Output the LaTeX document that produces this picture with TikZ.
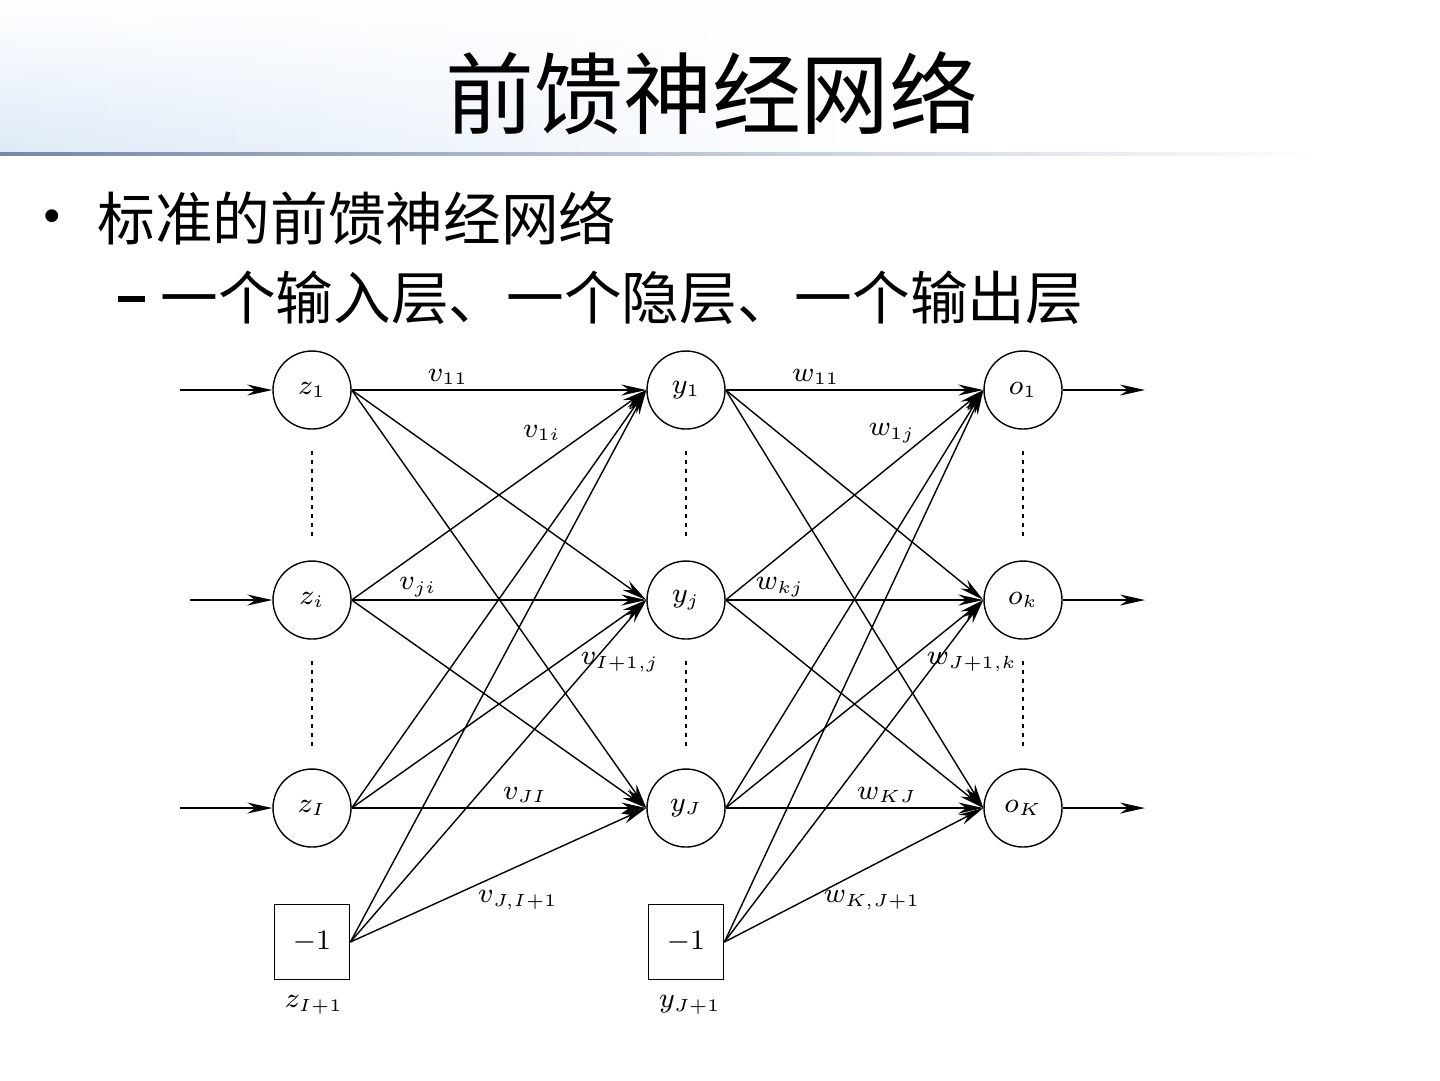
\documentclass[tikz,border=0pt]{standalone}
\usepackage{fontspec}
\newfontfamily\cjk{Noto Sans CJK SC}
\usetikzlibrary{arrows.meta,fadings}
\definecolor{bandblue}{RGB}{222,234,248}
\definecolor{ruleblue}{RGB}{120,136,165}
\begin{document}
\begin{tikzpicture}[x=0.1mm, y=-0.1mm, every node/.style={font=\fontsize{7.7}{9}\selectfont},
  neuron/.style={draw, circle, minimum size=7.8mm, inner sep=0pt, line width=0.4pt},
  biasbox/.style={draw, rectangle, minimum size=7.5mm, inner sep=0pt, line width=0.5pt},
  wire/.style={line width=0.4pt, -{Stealth[length=2.5mm, width=1.1mm, inset=0.8mm]}},
  dots/.style={line width=0.45pt, dash pattern=on 0.45mm off 0.45mm}]
  \useasboundingbox (0,0) rectangle (1440,1080);
  \fill[white] (0,0) rectangle (1440,1080);
  \shade[left color=bandblue, right color=white, path fading=north] (0,0) rectangle (900,153);
  \shade[left color=ruleblue, right color=white] (0,152.5) rectangle (1320,155.5);
  \node (title) at (712,93) {\cjk\fontsize{25.3}{30}\selectfont 前馈神经网络};
  \node (dot) at (52,221) {\fontsize{16.4}{20}\selectfont\textbullet};
  \node[anchor=west, inner sep=0pt] (item) at (97,218) {\cjk\fontsize{16.4}{20}\selectfont 标准的前馈神经网络};
  \node[inner sep=0pt] (dash) at (131,299) {\rule{2.7mm}{0.55mm}};
  \node[anchor=west, inner sep=0pt] (sub) at (160,298) {\cjk\fontsize{16.4}{20}\selectfont 一个输入层、一个隐层、一个输出层};

  \node[neuron] (z1) at (312,390) {$z_1$};
  \node[neuron] (zi) at (312,600) {$z_i$};
  \node[neuron] (zI) at (312,808) {$z_I$};
  \node[biasbox] (zb) at (312,942) {$-1$};
  \node[neuron] (y1) at (686,390) {$y_1$};
  \node[neuron] (yj) at (686,600) {$y_j$};
  \node[neuron] (yJ) at (686,808) {$y_J$};
  \node[biasbox] (yb) at (686,942) {$-1$};
  \node[neuron] (o1) at (1023,390) {$o_1$};
  \node[neuron] (ok) at (1023,600) {$o_k$};
  \node[neuron] (oK) at (1023,808) {$o_K$};
  \node (zblab) at (314,1005) {$z_{I+1}$};
  \node (yblab) at (690,1005) {$y_{J+1}$};

  \coordinate (in1) at (180,390);
  \coordinate (ini) at (190,600);
  \coordinate (inI) at (180,808);
  \coordinate (out1) at (1145,390);
  \coordinate (outk) at (1145,600);
  \coordinate (outK) at (1145,808);
  \foreach \a/\b in {in1/z1, ini/zi, inI/zI} {
    \draw[wire] (\a) -- (\b.west);
  }
  \foreach \a/\b in {o1/out1, ok/outk, oK/outK} {
    \draw[wire] (\a.east) -- (\b);
  }
  \foreach \s in {z1,zi,zI,zb} {
    \foreach \t in {y1,yj,yJ} {
      \draw[wire] (\s.east) -- (\t.west);
    }
  }
  \foreach \s in {y1,yj,yJ,yb} {
    \foreach \t in {o1,ok,oK} {
      \draw[wire] (\s.east) -- (\t.west);
    }
  }
  \foreach \a/\b in {z1/zi, zi/zI, y1/yj, yj/yJ, o1/ok, ok/oK} {
    \draw[dots] ([yshift=-2.1mm]\a.south) -- ([yshift=2.1mm]\b.north);
  }

  \node (v11) at (448,377) {$v_{11}$};
  \node (v1i) at (542,433) {$v_{1i}$};
  \node (vji) at (418,587) {$v_{ji}$};
  \node (vIj) at (620,662) {$v_{I+1,j}$};
  \node (vJI) at (525,795) {$v_{JI}$};
  \node (vJb) at (518,900) {$v_{J,I+1}$};
  \node (w11) at (816,377) {$w_{11}$};
  \node (w1j) at (892,433) {$w_{1j}$};
  \node (wkj) at (780,587) {$w_{kj}$};
  \node (wJk) at (972,662) {$w_{J+1,k}$};
  \node (wKJ) at (887,795) {$w_{KJ}$};
  \node (wKb) at (872,900) {$w_{K,J+1}$};
\end{tikzpicture}
\end{document}
